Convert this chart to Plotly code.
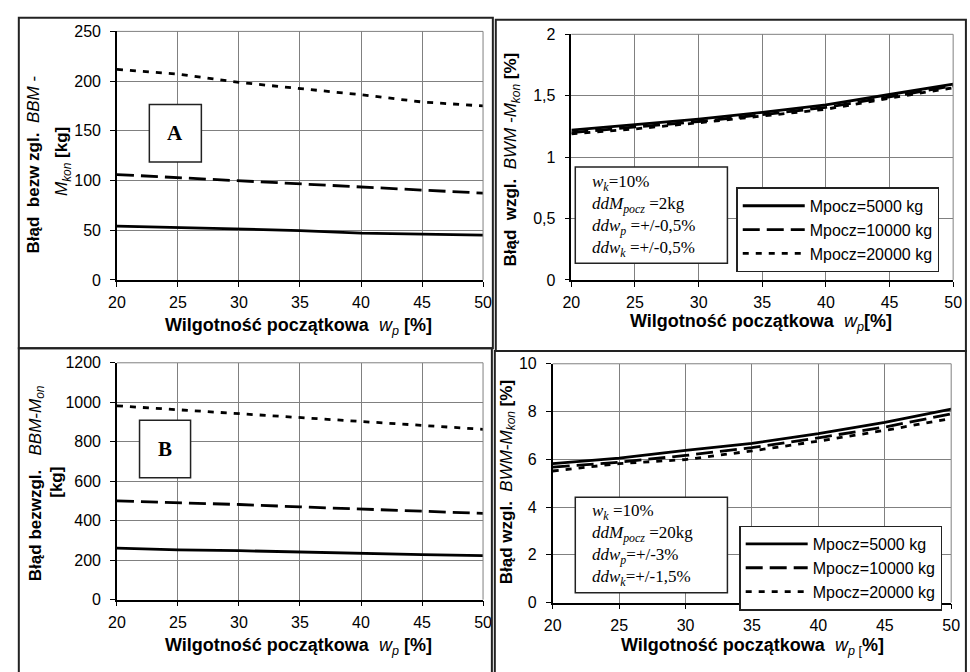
import plotly.graph_objects as go

W, H = 970, 672

wp = [20, 25, 30, 35, 40, 45, 50]
series_names = ["Mpocz=5000 kg", "Mpocz=10000 kg", "Mpocz=20000 kg"]

# Panel A: absolute error [kg], small measurement errors
A_5000 = [54.2, 52.6, 51.0, 49.7, 47.0, 46.0, 45.0]
A_10000 = [106.0, 103.0, 100.0, 96.7, 93.5, 90.5, 87.3]
A_20000 = [211.8, 207.0, 198.7, 192.8, 186.3, 179.0, 175.0]

# Panel B: relative error [%], small measurement errors
B_5000 = [1.22, 1.265, 1.31, 1.365, 1.425, 1.51, 1.595]
B_10000 = [1.20, 1.245, 1.29, 1.345, 1.405, 1.49, 1.58]
B_20000 = [1.19, 1.23, 1.28, 1.335, 1.39, 1.48, 1.565]

# Panel C: absolute error [kg], large measurement errors
C_5000 = [261, 252, 248, 241, 233, 228, 223]
C_10000 = [500, 492, 482, 470, 459, 449, 437]
C_20000 = [982, 962, 941, 923, 903, 883, 863]

# Panel D: relative error [%], large measurement errors
D_5000 = [5.82, 6.05, 6.37, 6.67, 7.07, 7.55, 8.10]
D_10000 = [5.67, 5.88, 6.16, 6.49, 6.90, 7.35, 7.90]
D_20000 = [5.51, 5.82, 5.99, 6.35, 6.76, 7.21, 7.71]

x_ticks = [20, 25, 30, 35, 40, 45, 50]
yA_ticks = [0, 50, 100, 150, 200, 250]
yB_ticks = [0, 0.5, 1, 1.5, 2]
yB_text = ["0", "0,5", "1", "1,5", "2"]
yC_ticks = [0, 200, 400, 600, 800, 1000, 1200]
yD_ticks = [0, 2, 4, 6, 8, 10]

info_B = "<i>w</i><sub><i>k</i></sub>=10%<br><i>ddM</i><sub><i>pocz</i></sub> =2kg<br><i>ddw</i><sub><i>p</i></sub> =+/-0,5%<br><i>ddw</i><sub><i>k</i></sub> =+/-0,5%"
info_D = "<i>w</i><sub><i>k</i></sub> =10%<br><i>ddM</i><sub><i>pocz</i></sub> =20kg<br><i>ddw</i><sub><i>p</i></sub>=+/-3%<br><i>ddw</i><sub><i>k</i></sub>=+/-1,5%"

SANS = "Liberation Sans, Arial, sans-serif"
SERIF = "Liberation Serif, Times New Roman, serif"

TICK_SIZE = 16
XTITLE_SIZE = 18
YTITLE_SIZE = 17

def px(x):
    return x / W

def py(y):
    return 1 - y / H

dashes = ["solid", "17px,7px", "6px,7px"]

fig = go.Figure()

panels = [
    ("x", "y", [A_5000, A_10000, A_20000], None),
    ("x2", "y2", [B_5000, B_10000, B_20000], "legend"),
    ("x3", "y3", [C_5000, C_10000, C_20000], None),
    ("x4", "y4", [D_5000, D_10000, D_20000], "legend2"),
]
for xa, ya, ser, leg in panels:
    for name, vals, dash in zip(series_names, ser, dashes):
        fig.add_trace(go.Scatter(
            x=wp, y=vals, xaxis=xa, yaxis=ya, mode="lines", name=name,
            line=dict(color="black", width=2.8, dash=dash),
            showlegend=leg is not None, legend=leg if leg else "legend",
        ))

def xax(dom):
    return dict(domain=[px(dom[0]), px(dom[1])], range=[20, 50], tickvals=x_ticks,
                showgrid=True, gridcolor="#808080", gridwidth=1, showline=True,
                linecolor="black", linewidth=1.5, ticks="outside", ticklen=5,
                tickcolor="black", zeroline=False, fixedrange=True, ticklabelstandoff=2,
                tickfont=dict(family=SANS, size=TICK_SIZE, color="black"))

def yax(dom, rng, tv, tt=None):
    d = dict(domain=[py(dom[1]), py(dom[0])], range=rng, tickvals=tv,
             showgrid=True, gridcolor="#808080", gridwidth=1, showline=True,
             linecolor="black", linewidth=1.5, ticks="outside", ticklen=5,
             tickcolor="black", zeroline=False, fixedrange=True, ticklabelstandoff=6,
             tickfont=dict(family=SANS, size=TICK_SIZE, color="black"))
    if tt:
        d["ticktext"] = tt
    return d

fig.update_layout(
    xaxis=dict(xax((110, 483)), anchor="y"),
    yaxis=dict(yax((24, 279), [0, 250], yA_ticks), anchor="x"),
    xaxis2=dict(xax((573, 962)), anchor="y2"),
    yaxis2=dict(yax((27, 279), [0, 2], yB_ticks, yB_text), anchor="x2"),
    xaxis3=dict(xax((110, 483)), anchor="y3"),
    yaxis3=dict(yax((364, 607), [0, 1200], yC_ticks), anchor="x3"),
    xaxis4=dict(xax((554, 960)), anchor="y4"),
    yaxis4=dict(yax((365, 610), [0, 10], yD_ticks), anchor="x4"),
)

# plot-area top/right borders (gray), panel frames
shapes = []
for (x0, x1, y0, y1) in [(110, 483, 24, 279), (573, 962, 27, 279), (110, 483, 364, 607), (554, 960, 365, 610)]:
    shapes.append(dict(type="line", xref="paper", yref="paper", x0=px(x0), x1=px(x1), y0=py(y0), y1=py(y0),
                       line=dict(color="#808080", width=1)))
    shapes.append(dict(type="line", xref="paper", yref="paper", x0=px(x1), x1=px(x1), y0=py(y0), y1=py(y1),
                       line=dict(color="#808080", width=1)))
for (x0, y0, x1, y1) in [(10, 10, 493, 349), (496, 12, 975, 352), (10, 349, 492, 690), (495, 352, 975, 690)]:
    shapes.append(dict(type="rect", xref="paper", yref="paper", x0=px(x0), x1=px(x1), y0=py(y1), y1=py(y0),
                       line=dict(color="#222", width=2), fillcolor="rgba(0,0,0,0)", layer="above"))
# label boxes A, B and info boxes
for (x0, y0, x1, y1) in [(143, 99, 196, 158), (133, 423, 185, 482), (577, 163, 732, 262), (577, 502, 732, 600)]:
    shapes.append(dict(type="rect", xref="paper", yref="paper", x0=px(x0), x1=px(x1), y0=py(y1), y1=py(y0),
                       line=dict(color="#222", width=1.5), fillcolor="white", layer="above"))
fig.update_layout(shapes=shapes)

ann = []
def add_text(x, y, text, size, family=SANS, angle=0, xanchor="center", yanchor="middle", align="center"):
    ann.append(dict(x=px(x), y=py(y), xref="paper", yref="paper", text=text, showarrow=False,
                    textangle=angle, xanchor=xanchor, yanchor=yanchor, align=align,
                    font=dict(family=family, size=size, color="black")))

xt = "<b>Wilgotność początkowa </b> <i>w</i><sub><i>p</i></sub> <b>[%]</b>"
add_text(295, 327, xt, XTITLE_SIZE)
add_text(766, 323, "<b>Wilgotność początkowa </b> <i>w</i><sub><i>p</i></sub><b>[%]</b>", XTITLE_SIZE)
add_text(295, 655, xt, XTITLE_SIZE)
add_text(758, 655, "<b>Wilgotność początkowa </b> <i>w</i><sub><i>p</i> [</sub><b>%]</b>", XTITLE_SIZE)

add_text(25, 161, "<b>Błąd  bezw zgl.</b>  <i>BBM</i> -", YTITLE_SIZE, angle=-90)
add_text(55, 157, "<i>M</i><sub><i>kon</i></sub> <b>[kg]</b>", YTITLE_SIZE, angle=-90)
add_text(513, 155, "<b>Błąd  wzgl.</b>  <i>BWM -M</i><sub><i>kon</i></sub> <b>[%]</b>", YTITLE_SIZE, angle=-90)
add_text(28, 487, "<b>Błąd bezwzgl.</b>   <i>BBM-M</i><sub><i>on</i></sub>", YTITLE_SIZE, angle=-90)
add_text(49, 487, "<b>[kg]</b>", YTITLE_SIZE, angle=-90)
add_text(508, 487, "<b>Błąd wzgl.</b>  <i>BWM-M</i><sub><i>kon</i></sub> <b>[%]</b>", YTITLE_SIZE, angle=-90)

add_text(169, 128, "<b>A</b>", 21, family=SERIF)
add_text(159, 452, "<b>B</b>", 21, family=SERIF)

add_text(592, 213, info_B, 17, family=SERIF, xanchor="left", align="left")
add_text(592, 551, info_D, 17, family=SERIF, xanchor="left", align="left")

fig.update_layout(annotations=ann)

legend_style = dict(bgcolor="white", bordercolor="#222", borderwidth=1.5,
                    font=dict(family=SANS, size=16, color="black"),
                    itemwidth=62, xanchor="left", yanchor="top", tracegroupgap=0,
                    itemclick=False, itemdoubleclick=False)
fig.update_layout(
    legend=dict(legend_style, x=px(741), y=py(184)),
    legend2=dict(legend_style, x=px(744), y=py(531)),
)

fig.update_layout(width=W, height=H, margin=dict(l=0, r=0, t=0, b=0),
                  paper_bgcolor="white", plot_bgcolor="white", showlegend=True)

fig.write_html("out.html")
